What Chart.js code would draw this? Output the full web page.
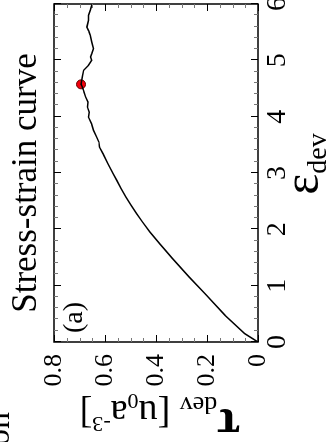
<!DOCTYPE html>
<html>
<head>
<meta charset="utf-8">
<script src="https://cdn.jsdelivr.net/npm/chart.js@4.4.0/dist/chart.umd.min.js"></script>
<style>
html, body { margin: 0; padding: 0; background: #fff; overflow: hidden; width: 329px; height: 442px; }
#wrap { position: absolute; left: 0; top: 0; width: 460px; height: 329px; transform-origin: 0 0; transform: translate(0px, 442px) rotate(-90deg); }
</style>
</head>
<body>
<div id="wrap"><canvas id="myChart" width="460" height="329"></canvas></div>
<script>
// strain (eps_dev) and stress (tau_dev)
const strain = [0, 0.148, 0.473, 0.858, 1.154, 1.479, 1.746, 1.953, 2.13, 2.278, 2.426, 2.574, 2.722, 2.87, 2.988, 3.166, 3.343, 3.462, 3.55, 3.639, 3.757, 3.876, 3.994, 4.08, 4.172, 4.26, 4.349, 4.45, 4.527, 4.574, 4.7, 4.822, 4.911, 5.0, 5.06, 5.118, 5.207, 5.325, 5.444, 5.52, 5.592, 5.71, 5.799, 5.888, 5.976, 6.065];
const stress = [0, 0.052, 0.129, 0.208, 0.27, 0.335, 0.386, 0.424, 0.453, 0.476, 0.498, 0.518, 0.537, 0.554, 0.568, 0.589, 0.608, 0.622, 0.624, 0.633, 0.645, 0.653, 0.665, 0.662, 0.669, 0.667, 0.676, 0.683, 0.689, 0.694, 0.689, 0.684, 0.665, 0.652, 0.657, 0.652, 0.645, 0.652, 0.658, 0.664, 0.671, 0.665, 0.665, 0.658, 0.652, 0.645];
const markStrain = [4.574];
const markStress = [0.694];
const strainTicks = [0, 1, 2, 3, 4, 5, 6];
const stressTicks = [0, 0.2, 0.4, 0.6, 0.8];

const serif = 'Liberation Serif';

function drawRich(ctx, segs, x0, y0) {
    let x = x0;
    for (const s of segs) {
        ctx.font = s[1];
        ctx.fillText(s[0], x, y0 + s[2]);
        x += ctx.measureText(s[0]).width;
    }
}

function richWidth(ctx, segs) {
    let w = 0;
    for (const s of segs) {
        ctx.font = s[1];
        w += ctx.measureText(s[0]).width;
    }
    return w;
}

const framePlugin = {
    id: 'frame',
    afterDraw(chart) {
        const ctx = chart.ctx;
        const a = chart.chartArea;
        const x = chart.scales.x;
        const y = chart.scales.y;
        ctx.save();
        ctx.strokeStyle = '#000';
        ctx.lineWidth = 1.5;
        ctx.strokeRect(a.left, a.top, a.right - a.left, a.bottom - a.top);

        // ticks pointing inward on all four sides
        ctx.lineWidth = 1;
        for (let i = 0; i <= 30; i++) {
            const px = Math.round(x.getPixelForValue(i / 5)) + 0.5;
            const len = i % 5 === 0 ? 7 : 4;
            ctx.strokeStyle = i % 5 === 0 ? '#000' : '#777';
            ctx.beginPath();
            ctx.moveTo(px, a.bottom); ctx.lineTo(px, a.bottom - len);
            ctx.moveTo(px, a.top); ctx.lineTo(px, a.top + len);
            ctx.stroke();
        }
        for (let i = 0; i <= 16; i++) {
            const py = Math.round(y.getPixelForValue(i / 20)) + 0.5;
            const len = i % 4 === 0 ? 7 : 4;
            ctx.strokeStyle = i % 4 === 0 ? '#000' : '#777';
            ctx.beginPath();
            ctx.moveTo(a.left, py); ctx.lineTo(a.left + len, py);
            ctx.moveTo(a.right, py); ctx.lineTo(a.right - len, py);
            ctx.stroke();
        }

        ctx.fillStyle = '#000';
        ctx.textBaseline = 'alphabetic';

        // title
        ctx.textAlign = 'center';
        ctx.font = '35px ' + serif;
        ctx.fillText('Stress-strain curve', 259, 36);

        // cut-off word from the neighbouring panel
        ctx.textAlign = 'left';
        ctx.font = '34px ' + serif;
        ctx.fillText('on', -4, 9);

        // panel label
        ctx.font = '28px ' + serif;
        ctx.fillText('(a)', 109, 82);

        // x axis title
        const xt = [['\u03b5', '50px ' + serif, 0], ['dev', '28px ' + serif, 8]];
        drawRich(ctx, xt, (a.left + a.right) / 2 + 9 - richWidth(ctx, xt) / 2, 318);

        // y axis title
        const yt = [['\u03c4', 'bold 50px ' + serif, -8], ['dev', '26px ' + serif, 4],
                    [' [u', '38px ' + serif, 0], ['0', '22px ' + serif, 7],
                    ['a', '38px ' + serif, 0], ['-3', '22px ' + serif, -16], [']', '38px ' + serif, 0]];
        ctx.translate(41, (a.top + a.bottom) / 2 + 4);
        ctx.rotate(-Math.PI / 2);
        drawRich(ctx, yt, -richWidth(ctx, yt) / 2, 0);
        ctx.restore();
    }
};

const ctx = document.getElementById('myChart');

new Chart(ctx, {
    type: 'scatter',
    data: {
        datasets: [{
            data: strain.map((e, i) => ({ x: e, y: stress[i] })),
            showLine: true,
            borderColor: '#000',
            borderWidth: 1.5,
            pointRadius: 0,
            tension: 0
        }, {
            data: markStrain.map((e, i) => ({ x: e, y: markStress[i] })),
            pointRadius: 4.5,
            backgroundColor: '#f2000c',
            borderColor: '#600000',
            borderWidth: 1
        }]
    },
    options: {
        responsive: false,
        animation: false,
        devicePixelRatio: 1,
        layout: { padding: { top: 54, right: 22, left: 0, bottom: 0 } },
        plugins: { legend: { display: false }, tooltip: { enabled: false } },
        scales: {
            x: {
                type: 'linear',
                min: 0,
                max: 6,
                afterFit(s) { s.height = 71; },
                afterBuildTicks(s) { s.ticks = strainTicks.map(v => ({ value: v })); },
                grid: { display: false, drawTicks: false },
                border: { display: false },
                ticks: { padding: 3, color: '#000', maxRotation: 0, font: { family: serif, size: 28 } }
            },
            y: {
                type: 'linear',
                min: 0,
                max: 0.8,
                afterFit(s) { s.width = 100; },
                afterBuildTicks(s) { s.ticks = stressTicks.map(v => ({ value: v })); },
                grid: { display: false, drawTicks: false },
                border: { display: false },
                ticks: { padding: 12, color: '#000', font: { family: serif, size: 26 } }
            }
        }
    },
    plugins: [framePlugin]
});
</script>
</body>
</html>
